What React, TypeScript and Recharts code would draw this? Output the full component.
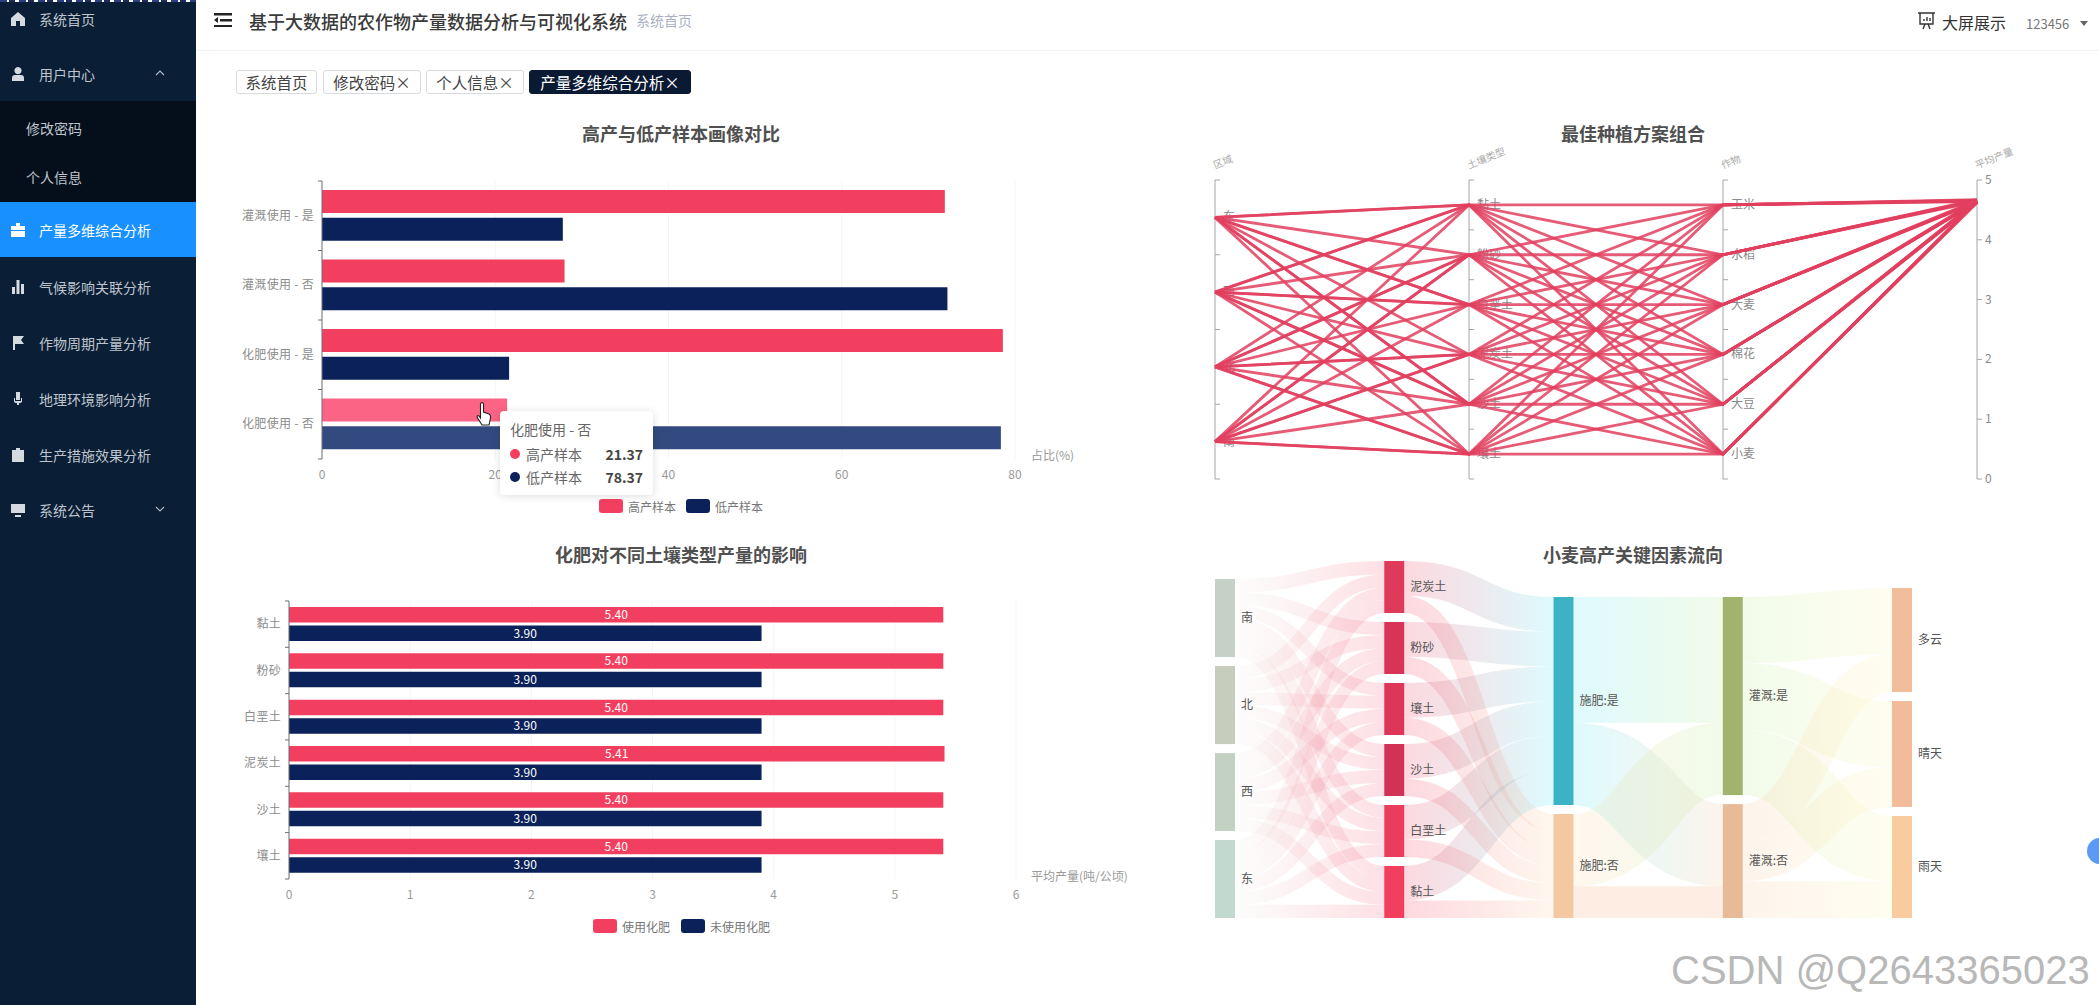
import React from "react";
import {
  BarChart,
  Bar,
  Cell,
  LabelList,
  LineChart,
  Line,
  XAxis,
  YAxis,
  CartesianGrid,
  ReferenceLine,
  Sankey,
  Tooltip,
} from "recharts";

const FONT = '"Noto Sans CJK SC", "Noto Sans", sans-serif';
const RED = "#f23f5f";
const NAVY = "#0a2159";

// 高产与低产样本画像对比
const profileCategories = ["灌溉使用 - 是", "灌溉使用 - 否", "化肥使用 - 是", "化肥使用 - 否"];
const highSample = [71.9, 28.0, 78.6, 21.37];
const lowSample = [27.8, 72.2, 21.6, 78.37];
const profileTicks = [0, 20, 40, 60, 80];

// 化肥对不同土壤类型产量的影响
const soilCategories = ["黏土", "粉砂", "白垩土", "泥炭土", "沙土", "壤土"];
const withFertilizer = [5.4, 5.4, 5.4, 5.41, 5.4, 5.4];
const noFertilizer = [3.9, 3.9, 3.9, 3.9, 3.9, 3.9];
const fertilizerTicks = [0, 1, 2, 3, 4, 5, 6];

// 最佳种植方案组合
const regions = ["东", "西", "北", "南"];
const crops = ["玉米", "水稻", "大麦", "棉花", "大豆", "小麦"];
const yieldTicks = [0, 1, 2, 3, 4, 5];
const plans: [string, string, string, number][] = [
  ["东", "黏土", "玉米", 4.66],
  ["西", "黏土", "水稻", 4.65],
  ["北", "黏土", "大麦", 4.64],
  ["南", "黏土", "棉花", 4.65],
  ["东", "黏土", "大豆", 4.63],
  ["西", "黏土", "小麦", 4.64],
  ["东", "粉砂", "玉米", 4.66],
  ["西", "粉砂", "水稻", 4.66],
  ["北", "粉砂", "大麦", 4.63],
  ["南", "粉砂", "棉花", 4.64],
  ["北", "粉砂", "大豆", 4.65],
  ["南", "粉砂", "小麦", 4.62],
  ["东", "白垩土", "玉米", 4.65],
  ["西", "白垩土", "水稻", 4.67],
  ["北", "白垩土", "大麦", 4.65],
  ["南", "白垩土", "棉花", 4.63],
  ["西", "白垩土", "大豆", 4.64],
  ["东", "白垩土", "小麦", 4.64],
  ["东", "泥炭土", "玉米", 4.67],
  ["西", "泥炭土", "水稻", 4.64],
  ["北", "泥炭土", "大麦", 4.66],
  ["南", "泥炭土", "棉花", 4.65],
  ["北", "泥炭土", "大豆", 4.63],
  ["南", "泥炭土", "小麦", 4.63],
  ["东", "沙土", "玉米", 4.65],
  ["西", "沙土", "水稻", 4.65],
  ["北", "沙土", "大麦", 4.64],
  ["南", "沙土", "棉花", 4.66],
  ["西", "沙土", "大豆", 4.62],
  ["东", "沙土", "小麦", 4.65],
  ["东", "壤土", "玉米", 4.64],
  ["西", "壤土", "水稻", 4.66],
  ["北", "壤土", "大麦", 4.63],
  ["南", "壤土", "棉花", 4.64],
  ["南", "壤土", "大豆", 4.65],
  ["北", "壤土", "小麦", 4.64],
];

// 小麦高产关键因素流向
const flowRegions = ["南", "北", "西", "东"];
const flowSoils = ["泥炭土", "粉砂", "壤土", "沙土", "白垩土", "黏土"];
const flowFertilizer = ["施肥:是", "施肥:否"];
const flowIrrigation = ["灌溉:是", "灌溉:否"];
const flowWeather = ["多云", "晴天", "雨天"];
const regionToSoil = [
  [13.6, 13.1, 12.9, 13.2, 13.0, 13.0],
  [13.1, 13.4, 13.0, 12.9, 13.3, 13.1],
  [12.8, 13.0, 13.5, 13.2, 13.1, 13.1],
  [13.0, 13.0, 13.1, 13.2, 13.1, 13.3],
];
const soilToFertilizer = [
  [35.2, 17.3],
  [35.0, 17.5],
  [35.1, 17.4],
  [35.0, 17.5],
  [34.9, 17.6],
  [34.8, 17.7],
];
const fertilizerToIrrigation = [
  [127, 83],
  [73, 32],
];
const irrigationToWeather = [
  [67, 67, 66],
  [38, 40, 37],
];

const flowColumns = [flowRegions, flowSoils, flowFertilizer, flowIrrigation, flowWeather];
const flowNames = flowColumns.flat();
const flowNodeColors: Record<string, string> = {
  南: "#c5d1c6",
  北: "#c6cdbc",
  西: "#c2d1c1",
  东: "#c2d9cf",
  泥炭土: "#e03a5b",
  粉砂: "#d83458",
  壤土: "#dd3659",
  沙土: "#d13356",
  白垩土: "#ea3c5d",
  黏土: "#f23f5f",
  "施肥:是": "#3cb3c4",
  "施肥:否": "#f4c8a0",
  "灌溉:是": "#a0b46e",
  "灌溉:否": "#e8bb98",
  多云: "#f2bd9a",
  晴天: "#f2bc9a",
  雨天: "#f8cc9f",
};
// 连线比节点更亮、更淡
const flowLinkTints: Record<string, string> = {
  南: "#eef3ee",
  北: "#eef3ee",
  西: "#eef3ee",
  东: "#eef3ee",
  泥炭土: "#f23f5f",
  粉砂: "#f23f5f",
  壤土: "#f23f5f",
  沙土: "#f23f5f",
  白垩土: "#f23f5f",
  黏土: "#f23f5f",
  "施肥:是": "#5ae8f5",
  "施肥:否": "#fdd8a8",
  "灌溉:是": "#bcec94",
  "灌溉:否": "#f5c8a0",
  多云: "#fff9b5",
  晴天: "#fff9b5",
  雨天: "#fff9b5",
};

const flowLinks: { source: number; target: number; value: number }[] = [];
function addFlows(from: string[], to: string[], matrix: number[][]) {
  matrix.forEach((row, i) =>
    row.forEach((value, j) =>
      flowLinks.push({
        source: flowNames.indexOf(from[i]),
        target: flowNames.indexOf(to[j]),
        value,
      })
    )
  );
}
addFlows(flowRegions, flowSoils, regionToSoil);
addFlows(flowSoils, flowFertilizer, soilToFertilizer);
addFlows(flowFertilizer, flowIrrigation, fertilizerToIrrigation);
addFlows(flowIrrigation, flowWeather, irrigationToWeather);
const flowData = { nodes: flowNames.map((name) => ({ name })), links: flowLinks };

const menuItems = [
  { label: "系统首页", y: 19, icon: "home" },
  { label: "用户中心", y: 74, icon: "user", arrow: "up" },
  { label: "修改密码", y: 128, sub: true },
  { label: "个人信息", y: 177, sub: true },
  { label: "产量多维综合分析", y: 230, icon: "case", active: true },
  { label: "气候影响关联分析", y: 287, icon: "bars" },
  { label: "作物周期产量分析", y: 343, icon: "flag" },
  { label: "地理环境影响分析", y: 399, icon: "mic" },
  { label: "生产措施效果分析", y: 455, icon: "clip" },
  { label: "系统公告", y: 510, icon: "screen", arrow: "down" },
];
const tabs = [
  { label: "系统首页", left: 236, width: 81 },
  { label: "修改密码×", left: 323, width: 98 },
  { label: "个人信息×", left: 426, width: 98 },
  { label: "产量多维综合分析×", left: 529, width: 162, active: true },
];

const icons: Record<string, React.ReactNode> = {
  home: <path d="M7 0 L14 6 V14 H9 V9 H5 V14 H0 V6 Z" />,
  user: <path d="M7 0 A3.6 3.6 0 1 1 6.99 0 Z M1 14 V11 Q1 8 4 8 H10 Q13 8 13 11 V14 Z" />,
  case: <path d="M5 0 H9 V3 H14 V7 H0 V3 H5 Z M0 8 H14 V14 H0 Z" />,
  bars: <path d="M1 7 H4 V14 H1 Z M5.5 0 H8.5 V14 H5.5 Z M10 4 H13 V14 H10 Z" />,
  flag: <path d="M2 0 H13 L10 4 L13 8 H4 V14 H2 Z" />,
  mic: <path d="M5 0 H9 V8 H5 Z M3 6 V9 Q3 11 6 11 V13 H8 V11 Q11 11 11 9 V6 H10 V9 H4 V6 Z" />,
  clip: <path d="M5 0 H9 V2 H13 V14 H1 V2 H5 Z M3 6 H11 V7 H3 Z M3 9 H11 V10 H3 Z" />,
  screen: <path d="M0 1 H14 V10 H0 Z M4 12 H10 V14 H4 Z" />,
};

function Sidebar() {
  return (
    <div style={{ position: "absolute", left: 0, top: 0, width: 196, height: 1005, background: "#0a1e36" }}>
      <div style={{ position: "absolute", left: 0, top: 101, width: 196, height: 101, background: "#050f1c" }} />
      <div style={{ position: "absolute", left: 0, top: 202, width: 196, height: 55, background: "#1890ff" }} />
      {menuItems.map((item) => (
        <div key={item.label}>
          {item.icon && (
            <svg
              width={14}
              height={14}
              viewBox="0 0 14 14"
              fill={item.active ? "#fff" : "#d5dae0"}
              style={{ position: "absolute", left: 11, top: item.y - 7 }}
            >
              {icons[item.icon]}
            </svg>
          )}
          <div
            style={{
              position: "absolute",
              left: item.sub ? 26 : 39,
              top: item.y - 10,
              height: 20,
              lineHeight: "20px",
              fontSize: 14,
              whiteSpace: "nowrap",
              color: item.active ? "#ffffff" : "#bfc5cd",
            }}
          >
            {item.label}
          </div>
          {item.arrow && (
            <svg width={10} height={6} style={{ position: "absolute", left: 155, top: item.y - 4 }}>
              <path
                d={item.arrow === "up" ? "M1 5 L5 1 L9 5" : "M1 1 L5 5 L9 1"}
                fill="none"
                stroke="#aeb6c0"
                strokeWidth={1.2}
              />
            </svg>
          )}
        </div>
      ))}
      {/* 截图顶端残留的一条细边 */}
      <div
        style={{
          position: "absolute",
          left: 0,
          top: 0,
          width: 196,
          height: 2,
          background: "repeating-linear-gradient(90deg, #2c3f86 0 7px, #fff 7px 9px, #1c2a5c 9px 15px, #fff 15px 19px)",
        }}
      />
    </div>
  );
}

function Header() {
  return (
    <>
      <div style={{ position: "absolute", left: 196, top: 50, width: 1903, height: 1, background: "#f0f2f6" }} />
      <svg width={18} height={14} style={{ position: "absolute", left: 214, top: 13 }} fill="#222">
        <path d="M0 0 H18 V2.4 H0 Z M6 6 H18 V8.4 H6 Z M0 12 H18 V14.4 H0 Z M0 7 L4 4 V10 Z" />
      </svg>
      <div style={{ position: "absolute", left: 249, top: 8, fontSize: 18, fontWeight: 500, color: "#3a3a3a", whiteSpace: "nowrap" }}>
        基于大数据的农作物产量数据分析与可视化系统
      </div>
      <div style={{ position: "absolute", left: 636, top: 10, fontSize: 14, color: "#a9b1c2", whiteSpace: "nowrap" }}>
        系统首页
      </div>
      <svg width={19} height={18} style={{ position: "absolute", left: 1917, top: 12 }} fill="none" stroke="#333" strokeWidth={1.4}>
        <path d="M1 1 H18 M3 1 V12 H16 V1 M6 17 L8 12 M13 17 L11 12 M7 9 V7 M10 9 V5 M13 9 V6" />
      </svg>
      <div style={{ position: "absolute", left: 1942, top: 10, fontSize: 16, color: "#333", whiteSpace: "nowrap" }}>
        大屏展示
      </div>
      <div style={{ position: "absolute", left: 2026, top: 14, fontSize: 13, color: "#777", whiteSpace: "nowrap" }}>
        123456
      </div>
      <svg width={8} height={5} style={{ position: "absolute", left: 2080, top: 21 }} fill="#666">
        <path d="M0 0 H8 L4 5 Z" />
      </svg>
      {tabs.map((tab) => (
        <div
          key={tab.label}
          style={{
            position: "absolute",
            left: tab.left,
            top: 70,
            width: tab.width,
            height: 24,
            boxSizing: "border-box",
            lineHeight: "22px",
            textAlign: "center",
            fontSize: 15.5,
            whiteSpace: "nowrap",
            borderRadius: 3,
            border: tab.active ? "1px solid #0a1a33" : "1px solid #d7dae2",
            background: tab.active ? "#0a1a33" : "#fff",
            color: tab.active ? "#fff" : "#444",
          }}
        >
          {tab.label}
        </div>
      ))}
    </>
  );
}

function ChartTitle({ text, x, y }: { text: string; x: number; y: number }) {
  return (
    <div
      style={{
        position: "absolute",
        left: x - 200,
        width: 400,
        top: y - 13,
        height: 26,
        lineHeight: "26px",
        textAlign: "center",
        fontSize: 18,
        fontWeight: 700,
        color: "#505050",
      }}
    >
      {text}
    </div>
  );
}

function ChartLegend({ items, x, y }: { items: { name: string; color: string; width: number }[]; x: number; y: number }) {
  return (
    <div style={{ position: "absolute", left: x, top: y - 8, display: "flex", height: 16, alignItems: "center" }}>
      {items.map((item) => (
        <div key={item.name} style={{ display: "flex", alignItems: "center", width: item.width }}>
          <span style={{ width: 24, height: 14, borderRadius: 3, background: item.color, marginRight: 5 }} />
          <span style={{ fontSize: 12, color: "#777", whiteSpace: "nowrap" }}>{item.name}</span>
        </div>
      ))}
    </div>
  );
}

// echarts 风格的类目轴：刻度在区间边界
function bandTick(axisX: number, band: number, last: number) {
  return function BandTick(props: any) {
    const { y, index, payload } = props;
    return (
      <g>
        <line x1={axisX - 4} x2={axisX} y1={y - band / 2} y2={y - band / 2} stroke="#6e7079" />
        {index === last && <line x1={axisX - 4} x2={axisX} y1={y + band / 2} y2={y + band / 2} stroke="#6e7079" />}
        <text x={axisX - 8} y={y} dy={4} textAnchor="end" fontSize={12} letterSpacing={0.3} fill="#8c8c8c">
          {payload.value}
        </text>
      </g>
    );
  };
}

function ProfileTooltip({ payload, label }: any) {
  if (!payload || !payload.length) return null;
  return (
    <div
      style={{
        width: 153,
        height: 84,
        boxSizing: "border-box",
        padding: "8px 10px",
        background: "#fff",
        boxShadow: "0 1px 8px rgba(0,0,0,0.14)",
        borderRadius: 4,
        fontSize: 14,
        color: "#666",
        fontFamily: FONT,
      }}
    >
      <div style={{ lineHeight: "20px", height: 23 }}>{label}</div>
      {payload.map((p: any) => (
        <div key={p.name} style={{ display: "flex", alignItems: "center", height: 23 }}>
          <span style={{ width: 10, height: 10, borderRadius: 5, background: p.color, marginRight: 6 }} />
          <span>{p.name}</span>
          <span style={{ marginLeft: "auto", fontWeight: 700, color: "#464646" }}>{p.value}</span>
        </div>
      ))}
    </div>
  );
}

function ProfileChart() {
  const data = profileCategories.map((name, i) => ({ name, high: highSample[i], low: lowSample[i] }));
  return (
    <div style={{ position: "absolute", left: 200, top: 110 }}>
      <BarChart
        width={900}
        height={410}
        data={data}
        layout="vertical"
        margin={{ top: 71, left: 22, right: 85, bottom: 31 }}
        barSize={23}
        barGap={4.7}
      >
        <CartesianGrid horizontal={false} stroke="#f4f5f8" />
        <XAxis
          type="number"
          domain={[0, 80]}
          ticks={profileTicks}
          axisLine={false}
          tickLine={false}
          tickMargin={5}
          height={30}
          tick={{ fontSize: 12, fill: "#999" }}
          label={{ value: "占比(%)", position: "right", offset: 16, dy: -18, fontSize: 12, fill: "#999" }}
        />
        <YAxis
          type="category"
          dataKey="name"
          width={100}
          interval={0}
          tickLine={false}
          axisLine={{ stroke: "#6e7079" }}
          tick={bandTick(122, 69.5, profileCategories.length - 1)}
        />
        <Tooltip
          active
          defaultIndex={3}
          cursor={false}
          isAnimationActive={false}
          position={{ x: 300, y: 301 }}
          content={<ProfileTooltip />}
        />
        <Bar dataKey="high" name="高产样本" fill={RED} isAnimationActive={false}>
          {data.map((d, i) => (
            <Cell key={d.name} fill={i === 3 ? "#fb6484" : RED} />
          ))}
        </Bar>
        <Bar dataKey="low" name="低产样本" fill={NAVY} isAnimationActive={false}>
          {data.map((d, i) => (
            <Cell key={d.name} fill={i === 3 ? "#334a80" : NAVY} />
          ))}
        </Bar>
      </BarChart>
    </div>
  );
}

function FertilizerChart() {
  const data = soilCategories.map((name, i) => ({ name, yes: withFertilizer[i], no: noFertilizer[i] }));
  const fmt = (v: any) => Number(v).toFixed(2);
  return (
    <div style={{ position: "absolute", left: 200, top: 540 }}>
      <BarChart
        width={950}
        height={400}
        data={data}
        layout="vertical"
        margin={{ top: 61, left: 9, right: 134, bottom: 31 }}
        barSize={15.5}
        barGap={3}
      >
        <CartesianGrid horizontal={false} stroke="#f4f5f8" />
        <XAxis
          type="number"
          domain={[0, 6]}
          ticks={fertilizerTicks}
          axisLine={false}
          tickLine={false}
          tickMargin={5}
          height={30}
          tick={{ fontSize: 12, fill: "#999" }}
          label={{ value: "平均产量(吨/公顷)", position: "right", offset: 15, dy: -17, fontSize: 12, fill: "#999" }}
        />
        <YAxis
          type="category"
          dataKey="name"
          width={80}
          interval={0}
          tickLine={false}
          axisLine={{ stroke: "#6e7079" }}
          tick={bandTick(89, 46.4, soilCategories.length - 1)}
        />
        <Bar dataKey="yes" name="使用化肥" fill={RED} isAnimationActive={false}>
          <LabelList dataKey="yes" position="center" formatter={fmt} fill="#fff" fontSize={12} />
        </Bar>
        <Bar dataKey="no" name="未使用化肥" fill={NAVY} isAnimationActive={false}>
          <LabelList dataKey="no" position="center" formatter={fmt} fill="#fff" fontSize={12} />
        </Bar>
      </BarChart>
    </div>
  );
}

// 把类目放到平行坐标轴 0~5 范围内的区间中心
function bandValue(list: string[], name: string) {
  return 5 * (1 - (list.indexOf(name) + 0.5) / list.length);
}

const parallelAxes = [
  { name: "区域", categories: regions },
  { name: "土壤类型", categories: soilCategories },
  { name: "作物", categories: crops },
  { name: "平均产量", categories: null },
];

function ParallelAxis({ axis, ...props }: any) {
  const { x1, y1, y2 } = props;
  const top = Math.min(y1, y2);
  const h = Math.abs(y2 - y1);
  const cats: string[] | null = axis.categories;
  const tickYs = cats
    ? Array.from({ length: cats.length + 1 }, (_, i) => top + (h * i) / cats.length)
    : yieldTicks.map((t) => top + h * (1 - t / 5));
  const labels = cats
    ? cats.map((c, i) => ({ text: c, y: top + (h * (i + 0.5)) / cats.length }))
    : yieldTicks.map((t) => ({ text: String(t), y: top + h * (1 - t / 5) }));
  return (
    <g>
      <line x1={x1} x2={x1} y1={top} y2={top + h} stroke="#a6a6a6" />
      {tickYs.map((y) => (
        <line key={y} x1={x1} x2={x1 + 5} y1={y} y2={y} stroke="#a6a6a6" />
      ))}
      {labels.map((l) => (
        <text key={l.text} x={x1 + 8} y={l.y} dy={4} fontSize={12} fill="#8a8a8a">
          {l.text}
        </text>
      ))}
      <text
        x={x1}
        y={top - 11}
        fontSize={10}
        fill="#aaa"
        transform={`rotate(-22 ${x1} ${top - 11})`}
      >
        {axis.name}
      </text>
    </g>
  );
}

function PlanChart() {
  const data = parallelAxes.map((axis, a) => {
    const row: Record<string, any> = { axis: axis.name };
    plans.forEach((plan, i) => {
      if (a === 0) row[`p${i}`] = bandValue(regions, plan[0]);
      if (a === 1) row[`p${i}`] = bandValue(soilCategories, plan[1]);
      if (a === 2) row[`p${i}`] = bandValue(crops, plan[2]);
      if (a === 3) row[`p${i}`] = plan[3];
    });
    return row;
  });
  return (
    <div style={{ position: "absolute", left: 1165, top: 120 }}>
      <LineChart width={860} height={400} data={data} margin={{ top: 60, left: 50, right: 48, bottom: 41 }}>
        <XAxis hide dataKey="axis" type="category" scale="point" padding={{ left: 0, right: 0 }} />
        <YAxis hide type="number" domain={[0, 5]} />
        {parallelAxes.map((axis) => (
          <ReferenceLine key={axis.name} x={axis.name} shape={(p: any) => <ParallelAxis {...p} axis={axis} />} />
        ))}
        {plans.map((_, i) => (
          <Line
            key={i}
            dataKey={`p${i}`}
            type="linear"
            stroke="#e2405f"
            strokeWidth={2.8}
            strokeOpacity={0.85}
            dot={false}
            activeDot={false}
            isAnimationActive={false}
          />
        ))}
      </LineChart>
    </div>
  );
}

const NODE_GAP = 9;
// 参考图各列底部对齐，Sankey 默认顶部对齐，按列下移
function columnShift(depth: number) {
  return (flowSoils.length - flowColumns[depth].length) * NODE_GAP;
}

function FlowNode(props: any) {
  const { x, y, width, height, payload } = props;
  const top = y + columnShift(payload.depth);
  return (
    <g>
      <rect x={x} y={top} width={width} height={height} fill={flowNodeColors[payload.name]} />
      <text x={x + width + 6} y={top + height / 2} dy={4} fontSize={12} fill="#555">
        {payload.name}
      </text>
    </g>
  );
}

function FlowLink(props: any) {
  const { sourceX, targetX, sourceY, targetY, sourceControlX, targetControlX, linkWidth, index, payload } = props;
  const { source, target } = payload;
  const y0 = sourceY + columnShift(source.depth);
  const y1 = targetY + columnShift(target.depth);
  const id = `flow-${index}`;
  // 施肥:否 到 灌溉:否 这一条在图上明显更深
  const deep = source.name === "施肥:否" && target.name === "灌溉:否";
  return (
    <g>
      <defs>
        <linearGradient id={id} gradientUnits="userSpaceOnUse" x1={sourceX} x2={targetX} y1={0} y2={0}>
          <stop offset="0%" stopColor={deep ? "#f6a878" : flowLinkTints[source.name]} />
          <stop offset="100%" stopColor={deep ? "#f6a878" : flowLinkTints[target.name]} />
        </linearGradient>
      </defs>
      <path
        d={`M${sourceX},${y0} C${sourceControlX},${y0} ${targetControlX},${y1} ${targetX},${y1}`}
        fill="none"
        stroke={`url(#${id})`}
        strokeWidth={linkWidth}
        strokeOpacity={source.depth === 0 ? 0.16 : 0.2}
      />
    </g>
  );
}

function FlowChart() {
  return (
    <div style={{ position: "absolute", left: 1215, top: 561 }}>
      <Sankey
        width={737}
        height={357}
        data={flowData}
        nodeWidth={20}
        nodePadding={NODE_GAP}
        iterations={0}
        sort={false}
        margin={{ top: 0, left: 0, right: 40, bottom: 0 }}
        node={FlowNode}
        link={FlowLink}
      />
    </div>
  );
}

export default function App() {
  return (
    <div
      style={{
        position: "absolute",
        left: 0,
        top: 0,
        width: 2099,
        height: 1005,
        overflow: "hidden",
        background: "#fff",
        fontFamily: FONT,
      }}
    >
      <Sidebar />
      <Header />
      <ChartTitle text="高产与低产样本画像对比" x={681} y={133} />
      <ChartTitle text="最佳种植方案组合" x={1633} y={133} />
      <ChartTitle text="化肥对不同土壤类型产量的影响" x={681} y={554} />
      <ChartTitle text="小麦高产关键因素流向" x={1633} y={554} />
      <ProfileChart />
      <PlanChart />
      <FertilizerChart />
      <FlowChart />
      <ChartLegend
        x={599}
        y={506}
        items={[
          { name: "高产样本", color: RED, width: 87 },
          { name: "低产样本", color: NAVY, width: 87 },
        ]}
      />
      <ChartLegend
        x={593}
        y={926}
        items={[
          { name: "使用化肥", color: RED, width: 88 },
          { name: "未使用化肥", color: NAVY, width: 100 },
        ]}
      />
      <svg width={16} height={26} style={{ position: "absolute", left: 476, top: 402 }}>
        <path
          d="M5 1 Q7 0 7.5 2 V10 L13 12 Q15 13 14.5 16 L13 23 H6 L1 15 Q1 13 3 14 L4.5 16 V2 Q4.5 1 5 1 Z"
          fill="#fff"
          stroke="#222"
          strokeWidth={1.1}
        />
      </svg>
      <div
        style={{
          position: "absolute",
          left: 2087,
          top: 838,
          width: 26,
          height: 26,
          borderRadius: 13,
          background: "#5b9bf5",
        }}
      />
      <div
        style={{
          position: "absolute",
          left: 1671,
          top: 946,
          fontSize: 40,
          lineHeight: "48px",
          whiteSpace: "nowrap",
          fontFamily: '"Liberation Sans", sans-serif',
          color: "#b8b8b8",
          textShadow: "1px 1px 1px #fff, -1px -1px 1px #fff",
        }}
      >
        CSDN @Q2643365023
      </div>
    </div>
  );
}
